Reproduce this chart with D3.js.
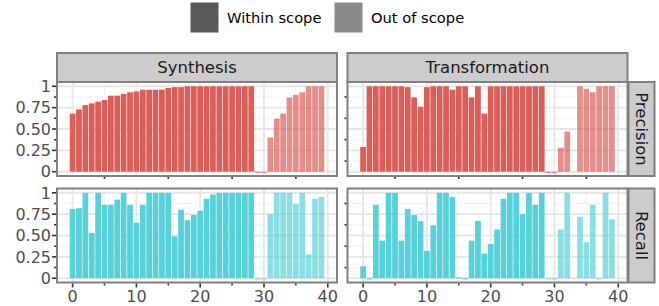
<!DOCTYPE html>
<html>
<head>
<meta charset="utf-8">
<script src="https://cdn.jsdelivr.net/npm/d3@7"></script>
<style>
  body { margin: 0; background: #fff; }
  text { font-family: "DejaVu Sans", sans-serif; }
</style>
</head>
<body>
<div id="chart"></div>
<script>
// Precision / Recall per task, faceted by task type (Synthesis, Transformation)
// Tasks 0..28 are within scope, 29..39 out of scope

const taskIds   = d3.range(40);
const scopeFrom = 29;            // first out-of-scope task id
const colNames  = ["Synthesis", "Transformation"];
const rowNames  = ["Precision", "Recall"];

const synthPrecision = [0.68, 0.73, 0.78, 0.80, 0.82, 0.84, 0.89, 0.89, 0.91, 0.93,
                        0.94, 0.96, 0.96, 0.96, 0.96, 0.98, 0.99, 0.99, 1, 1,
                        1, 1, 1, 1, 1, 1, 1, 1, 1,
                        0, 0, 0.40, 0.62, 0.68, 0.87, 0.90, 0.93, 1, 1, 1];
const transPrecision = [0.29, 1, 1, 1, 1, 1, 1, 0.99, 0.87, 0.76,
                        0.99, 1, 1, 1, 0.96, 1, 1, 0.87, 1, 0.68,
                        1, 1, 1, 1, 1, 1, 1, 1, 1,
                        0, 0, 0.28, 0.47, null, 1, 0.97, 0.93, 1, 1, 1];
const synthRecall    = [0.81, 0.82, 1, 0.53, 1, 0.86, 0.86, 0.92, 1, 0.86,
                        0.65, 0.86, 1, 1, 1, 1, 0.49, 0.80, 0.68, 0.74,
                        0.79, 0.93, 0.98, 1, 1, 1, 1, 1, 1,
                        0, 0, 0.75, 1, 1, 1, 0.87, 1, 0.28, 0.93, 0.95];
const transRecall    = [0.14, 0, 0.86, 0.44, 1, 1, 0.44, 0.81, 0.74, 0.67,
                        0.32, 0.62, 1, 1, 0.95, 0.01, 0, 0.44, 0.67, 0.29,
                        0.40, 0.57, 0.93, 1, 1, 0.75, 1, 0.86, 1,
                        0, 0, 0.57, 1, null, 0.72, 0.42, 0.86, 0, 1, 0.69];

const xMajor = [0, 10, 20, 30, 40];
const xMinor = [5, 15, 25, 35];
const yMajor = [0, 0.25, 0.5, 0.75, 1];
const yMinor = [0.125, 0.375, 0.625, 0.875];
const yLabels = ["0", "0.25", "0.50", "0.75", "1"];

const legendItems = ["Within scope", "Out of scope"];

// panel values: [row][col]
const panelValues = [
  [synthPrecision, transPrecision],
  [synthRecall,    transRecall]
];

const width = 659, height = 306;
const panelW = 280, panelH = 94;
const panelX = [57, 347.5];
const panelY = [82, 188.5];

const ROW_COLORS  = ["#dc5e58", "#58d2da"];
const SCOPE_ALPHA = [1, 0.7];
const FONT = 16;

const svg = d3.select("#chart").append("svg")
  .attr("width", width)
  .attr("height", height);

const x = d3.scaleLinear().domain([-2.445, 41.445]).range([0, panelW]);
const y = d3.scaleLinear().domain([-0.05, 1.05]).range([panelH, 0]);
const barW = x(0.9) - x(0);

// ── Legend ─────────────────────────────────────────────
const legend = svg.append("g").attr("transform", "translate(190, 2)");
const legendX = [0, 144];
legendItems.forEach((label, i) => {
  const g = legend.append("g").attr("transform", `translate(${legendX[i]}, 0)`);
  g.append("rect")
    .attr("width", 29).attr("height", 31)
    .attr("fill", "#595959")
    .attr("fill-opacity", SCOPE_ALPHA[i])
    .attr("stroke", "#ffffff");
  g.append("text")
    .attr("x", 37).attr("y", 21)
    .style("font-size", "14.7px")
    .style("fill", "#000")
    .text(label);
});

// ── Panels ─────────────────────────────────────────────
rowNames.forEach((rowName, r) => {
  colNames.forEach((colName, c) => {
    const g = svg.append("g")
      .attr("transform", `translate(${panelX[c]}, ${panelY[r]})`);

    // background + grid
    g.append("rect").attr("width", panelW).attr("height", panelH).attr("fill", "#fff");

    g.selectAll(".gx-minor").data(xMinor).join("line")
      .attr("x1", d => x(d)).attr("x2", d => x(d))
      .attr("y1", 0).attr("y2", panelH)
      .attr("stroke", "#f2f2f2").attr("stroke-width", 0.9);
    g.selectAll(".gy-minor").data(yMinor).join("line")
      .attr("y1", d => y(d)).attr("y2", d => y(d))
      .attr("x1", 0).attr("x2", panelW)
      .attr("stroke", "#f2f2f2").attr("stroke-width", 0.9);
    g.selectAll(".gx-major").data(xMajor).join("line")
      .attr("x1", d => x(d)).attr("x2", d => x(d))
      .attr("y1", 0).attr("y2", panelH)
      .attr("stroke", "#e6e6e6").attr("stroke-width", 1.8);
    g.selectAll(".gy-major").data(yMajor).join("line")
      .attr("y1", d => y(d)).attr("y2", d => y(d))
      .attr("x1", 0).attr("x2", panelW)
      .attr("stroke", "#e6e6e6").attr("stroke-width", 1.8);

    // bars
    const vals = panelValues[r][c];
    const bars = taskIds
      .map(t => ({ t, v: vals[t], out: t >= scopeFrom ? 1 : 0 }))
      .filter(d => d.v !== null);

    g.selectAll(".bar").data(bars).join("rect")
      .attr("x", d => x(d.t) - barW / 2)
      .attr("width", barW)
      .attr("y", d => y(d.v))
      .attr("height", d => Math.max(y(0) - y(d.v), 1.2))
      .attr("fill", ROW_COLORS[r])
      .attr("fill-opacity", d => SCOPE_ALPHA[d.out]);

    // border
    g.append("rect").attr("width", panelW).attr("height", panelH)
      .attr("fill", "none").attr("stroke", "#808080").attr("stroke-width", 2);

    // x ticks: minor everywhere, major + labels only on the outer axis
    const isBottom = r === rowNames.length - 1;
    g.selectAll(".tx-minor").data(xMinor).join("line")
      .attr("x1", d => x(d)).attr("x2", d => x(d))
      .attr("y1", panelH + 1).attr("y2", panelH + 3)
      .attr("stroke", "#333").attr("stroke-width", 1.6);
    // y ticks: minor everywhere, major + labels only on the outer axis
    const isLeft = c === 0;
    g.selectAll(".ty-minor").data(yMinor).join("line")
      .attr("y1", d => y(d)).attr("y2", d => y(d))
      .attr("x1", -1).attr("x2", -3)
      .attr("stroke", "#333").attr("stroke-width", 1.6);

    if (isBottom) {
      g.selectAll(".tx-major").data(xMajor).join("line")
        .attr("x1", d => x(d)).attr("x2", d => x(d))
        .attr("y1", panelH + 1).attr("y2", panelH + 5)
        .attr("stroke", "#333").attr("stroke-width", 1.6);
      g.selectAll(".lx").data(xMajor).join("text")
        .attr("x", d => x(d))
        .attr("y", panelH + 19)
        .attr("text-anchor", "middle")
        .style("font-size", FONT + "px")
        .style("fill", "#4d4d4d")
        .text(d => d);
    }
    if (isLeft) {
      g.selectAll(".ty-major").data(yMajor).join("line")
        .attr("y1", d => y(d)).attr("y2", d => y(d))
        .attr("x1", -1).attr("x2", -5)
        .attr("stroke", "#333").attr("stroke-width", 1.6);
      g.selectAll(".ly").data(yMajor).join("text")
        .attr("x", -6)
        .attr("y", d => y(d))
        .attr("dy", "0.36em")
        .attr("text-anchor", "end")
        .style("font-size", FONT + "px")
        .style("fill", "#4d4d4d")
        .text((d, i) => yLabels[i]);
    }

    // top strip
    if (r === 0) {
      svg.append("rect")
        .attr("x", panelX[c]).attr("y", 53)
        .attr("width", panelW).attr("height", panelY[0] - 53)
        .attr("fill", "#cccccc").attr("stroke", "#808080").attr("stroke-width", 2);
      svg.append("text")
        .attr("x", panelX[c] + panelW / 2)
        .attr("y", 73)
        .attr("text-anchor", "middle")
        .style("font-size", "16.5px")
        .style("fill", "#1a1a1a")
        .text(colName);
    }
    // right strip
    if (c === colNames.length - 1) {
      const sx = panelX[c] + panelW + 1;
      svg.append("rect")
        .attr("x", sx).attr("y", panelY[r])
        .attr("width", 26).attr("height", panelH)
        .attr("fill", "#cccccc").attr("stroke", "#808080").attr("stroke-width", 2);
      svg.append("text")
        .attr("transform", `translate(${sx + 7}, ${panelY[r] + panelH / 2}) rotate(90)`)
        .attr("text-anchor", "middle")
        .style("font-size", "16.5px")
        .style("fill", "#1a1a1a")
        .text(rowName);
    }
  });
});
</script>
</body>
</html>
